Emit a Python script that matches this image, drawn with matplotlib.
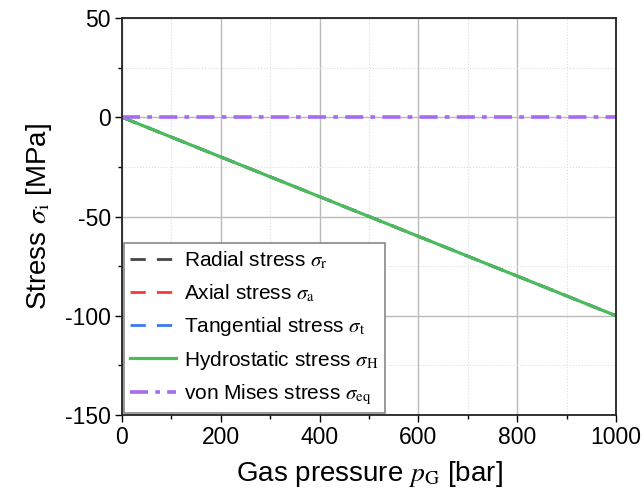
import matplotlib
matplotlib.use("Agg")
import matplotlib.pyplot as plt
from matplotlib.ticker import MultipleLocator

plt.rcParams['font.family'] = ['Liberation Sans', 'DejaVu Sans']
plt.rcParams['mathtext.fontset'] = 'stix'
plt.rcParams['axes.unicode_minus'] = False

pressure = [0, 200, 400, 600, 800, 1000]
radial = [0, -20, -40, -60, -80, -100]
axial = [0, -20, -40, -60, -80, -100]
tangential = [0, -20, -40, -60, -80, -100]
hydrostatic = [0, -20, -40, -60, -80, -100]
von_mises = [0, 0, 0, 0, 0, 0]

fig = plt.figure(figsize=(6.44, 4.96), dpi=100)
ax = fig.add_axes([122/644, 1-415/496, (616-122)/644, (415-18)/496])

ax.plot(pressure, radial, color='#444444', ls=(0, (5.5, 4)), lw=2, label=r'Radial stress $\sigma_\mathrm{r}$')
ax.plot(pressure, axial, color='#f03c3c', ls=(0, (5.5, 4)), lw=2, label=r'Axial stress $\sigma_\mathrm{a}$')
ax.plot(pressure, tangential, color='#3c78f0', ls=(0, (5.5, 4)), lw=2, label=r'Tangential stress $\sigma_\mathrm{t}$')
ax.plot(pressure, hydrostatic, color='#4cbb5c', ls='-', lw=2.3, label=r'Hydrostatic stress $\sigma_\mathrm{H}$')
ax.plot(pressure, von_mises, color='#a66cf0', ls=(0, (5, 2, 1.3, 2)), lw=2.6, label=r'von Mises stress $\sigma_\mathrm{eq}$')

ax.set_xlim(0, 1000)
ax.set_ylim(-150, 50)
ax.xaxis.set_major_locator(MultipleLocator(200))
ax.xaxis.set_minor_locator(MultipleLocator(100))
ax.yaxis.set_major_locator(MultipleLocator(50))
ax.yaxis.set_minor_locator(MultipleLocator(25))
ax.grid(which='major', color='#bbbbbb', lw=1, ls='-')
ax.grid(which='minor', color='#dddddd', lw=0.8, ls=':')
ax.set_axisbelow(True)
ax.tick_params(which='major', direction='out', length=5, width=1, labelsize=16.5, pad=3)
ax.tick_params(which='minor', direction='out', length=3, width=1)
for s in ax.spines.values():
    s.set_linewidth(1.3)
    s.set_color('#222222')

ax.set_xlabel(r'Gas pressure $p_\mathrm{G}$ [bar]', fontsize=20, labelpad=7)
ax.set_ylabel(r'Stress $\sigma_\mathrm{i}$ [MPa]', fontsize=20, labelpad=8)

leg = ax.legend(loc='lower left', fontsize=15, frameon=True, fancybox=False,
                edgecolor='#888888', framealpha=1, borderaxespad=0.1,
                handlelength=2.2, labelspacing=0.52, borderpad=0.3, handletextpad=0.4)
leg.get_frame().set_linewidth(1.2)

fig.savefig('out.png', dpi=100)
